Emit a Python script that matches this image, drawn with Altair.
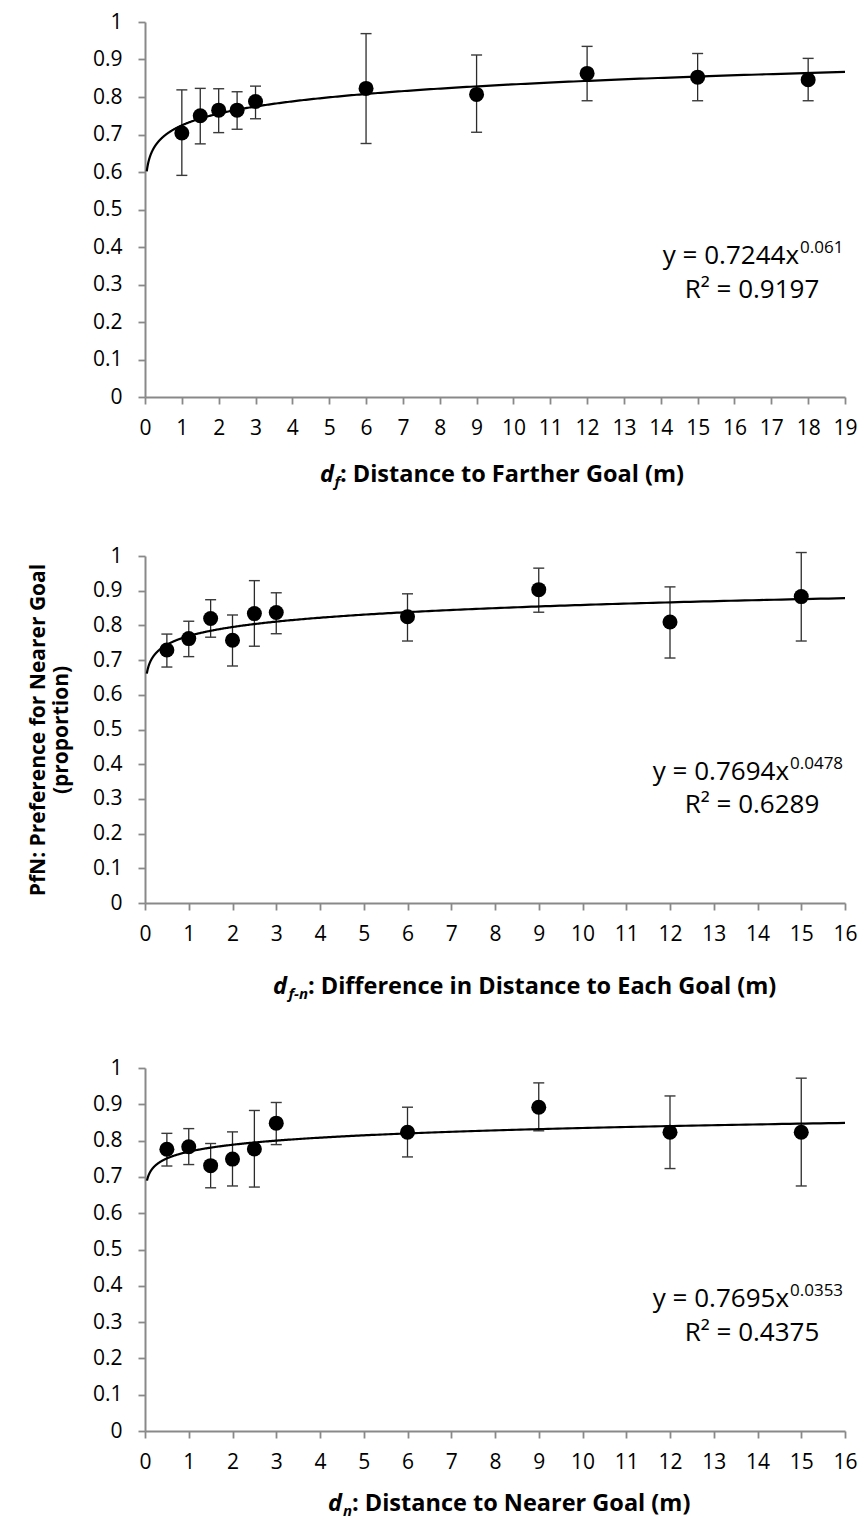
import altair as alt
import pandas as pd

# ---------------- data ----------------
# Panel 1: d_f
df_x = [1, 1.5, 2, 2.5, 3, 6, 9, 12, 15, 18]
df_y = [0.704, 0.750, 0.765, 0.765, 0.788, 0.823, 0.807, 0.863, 0.853, 0.846]
df_lo = [0.591, 0.675, 0.705, 0.714, 0.742, 0.676, 0.706, 0.790, 0.790, 0.790]
df_hi = [0.819, 0.823, 0.822, 0.814, 0.829, 0.969, 0.912, 0.935, 0.916, 0.903]

# Panel 2: d_f-n
dfn_x = [0.5, 1, 1.5, 2, 2.5, 3, 6, 9, 12, 15]
dfn_y = [0.729, 0.762, 0.820, 0.757, 0.834, 0.837, 0.825, 0.903, 0.810, 0.883]
dfn_lo = [0.680, 0.710, 0.766, 0.683, 0.740, 0.776, 0.755, 0.838, 0.706, 0.755]
dfn_hi = [0.775, 0.812, 0.874, 0.830, 0.929, 0.894, 0.891, 0.965, 0.911, 1.010]

# Panel 3: d_n
dn_x = [0.5, 1, 1.5, 2, 2.5, 3, 6, 9, 12, 15]
dn_y = [0.776, 0.783, 0.731, 0.749, 0.777, 0.848, 0.823, 0.892, 0.823, 0.823]
dn_lo = [0.730, 0.734, 0.670, 0.675, 0.672, 0.789, 0.755, 0.827, 0.723, 0.675]
dn_hi = [0.820, 0.833, 0.792, 0.824, 0.883, 0.905, 0.892, 0.959, 0.923, 0.972]

# Power-law trend lines as printed on the chart: y = a * x^b
fit_a = [0.7244, 0.7694, 0.7695]
fit_b = [0.061, 0.0478, 0.0353]
fit_start = [0.048, 0.042, 0.045]
fit_end = [19, 16, 16]

eq_main = ["y = 0.7244x", "y = 0.7694x", "y = 0.7695x"]
eq_sup = ["0.061", "0.0478", "0.0353"]
eq_r2 = ["R\u00b2 = 0.9197", "R\u00b2 = 0.6289", "R\u00b2 = 0.4375"]

x_max = [19, 16, 16]
title_d = ["d", "d", "d"]
title_sub = ["f", "f-n", "n"]
title_main = [": Distance to Farther Goal (m)",
              ": Difference in Distance to Each Goal (m)",
              ": Distance to Nearer Goal (m)"]
y_title = ["PfN: Preference for Nearer Goal", "(proportion)"]

y_ticks = [i / 10 for i in range(11)]

FONT = "Open Sans"
AX = "#898989"

# layout (pixels, style only)
widths = [700, 700, 700]
heights = [375, 347, 363]
eq_pos = [  # main right x, main y, sup y, r2 center x, r2 y
    (654, 234, 226, 607, 268),
    (644, 216, 208, 607, 249),
    (644, 231, 223, 607, 265),
]
title_pos = [  # main left x, center y, subscript width
    (195, 453, 6),
    (163, 431, 21),
    (207, 436, 10),
]


def panel(i, xs, ys, lo, hi, show_ytitle):
    data = pd.DataFrame({"x": xs, "y": ys, "lo": lo, "hi": hi})
    w, h = widths[i], heights[i]
    xscale = alt.Scale(domain=[0, x_max[i]], nice=False, zero=True)
    yscale = alt.Scale(domain=[0, 1], nice=False)
    xaxis = alt.Axis(values=list(range(0, x_max[i] + 1)), title=None,
                     labelPadding=13, tickSize=7, labelOverlap=False,
                     labelFlush=False)
    yaxis_kw = dict(values=y_ticks, format=".1~f", tickSize=7, labelPadding=16,
                    labelOverlap=False, labelFlush=False)
    if show_ytitle:
        yaxis = alt.Axis(title=y_title, titlePadding=21, **yaxis_kw)
    else:
        yaxis = alt.Axis(title=None, **yaxis_kw)

    def X(f):
        return alt.X(f, type="quantitative", scale=xscale, axis=xaxis)

    def Y(f):
        return alt.Y(f, type="quantitative", scale=yscale, axis=yaxis)

    base = alt.Chart(data)
    bars = base.mark_rule(color="#2b2b2b", strokeWidth=1.3).encode(
        x=X("x"), y=Y("lo"), y2="hi:Q")
    cap_lo = base.mark_tick(orient="horizontal", size=11, thickness=1.4,
                            color="#3a3a3a", opacity=1).encode(x=X("x"), y=Y("lo"))
    cap_hi = base.mark_tick(orient="horizontal", size=11, thickness=1.4,
                            color="#3a3a3a", opacity=1).encode(x=X("x"), y=Y("hi"))

    a, b, x0, x1 = fit_a[i], fit_b[i], fit_start[i], fit_end[i]
    curve = alt.Chart(alt.sequence(0, 1.0001, 0.002, as_="t")).transform_calculate(
        px=f"exp(log({x0}) + datum.t * (log({x1}) - log({x0})))"
    ).transform_calculate(
        py=f"{a} * pow(datum.px, {b})"
    ).mark_line(color="black", strokeWidth=2.2).encode(
        x=X("px"), y=Y("py"), order="t:Q")

    pts = base.mark_circle(size=225, color="black", opacity=1).encode(
        x=X("x"), y=Y("y"))

    mx, my, sy, rx, ry = eq_pos[i]
    one = pd.DataFrame({"k": [0]})
    t_main = alt.Chart(one).mark_text(font=FONT, fontSize=26, align="right",
                                      baseline="middle", color="black").encode(
        x=alt.value(mx), y=alt.value(my), text=alt.value(eq_main[i]))
    t_sup = alt.Chart(one).mark_text(font=FONT, fontSize=17, align="left",
                                     baseline="middle", color="black").encode(
        x=alt.value(mx + 1), y=alt.value(sy), text=alt.value(eq_sup[i]))
    t_r2 = alt.Chart(one).mark_text(font=FONT, fontSize=26, align="center",
                                    baseline="middle", color="black").encode(
        x=alt.value(rx), y=alt.value(ry), text=alt.value(eq_r2[i]))

    tx, ty, sw = title_pos[i]
    ti_main = alt.Chart(one).mark_text(font=FONT, fontSize=23.5, fontWeight="bold",
                                       align="left", baseline="middle",
                                       color="black").encode(
        x=alt.value(tx), y=alt.value(ty), text=alt.value(title_main[i]))
    ti_sub = alt.Chart(one).mark_text(font=FONT, fontSize=15, fontWeight="bold",
                                      fontStyle="italic", align="right",
                                      baseline="middle", color="black").encode(
        x=alt.value(tx), y=alt.value(ty + 7), text=alt.value(title_sub[i]))
    ti_d = alt.Chart(one).mark_text(font=FONT, fontSize=23.5, fontWeight="bold",
                                    fontStyle="italic", align="right",
                                    baseline="middle", color="black").encode(
        x=alt.value(tx - sw), y=alt.value(ty), text=alt.value(title_d[i]))

    return alt.layer(bars, cap_lo, cap_hi, curve, pts, t_main, t_sup, t_r2,
                     ti_main, ti_sub, ti_d).properties(width=w, height=h)


p1 = panel(0, df_x, df_y, df_lo, df_hi, False)
p2 = panel(1, dfn_x, dfn_y, dfn_lo, dfn_hi, True)
p3 = panel(2, dn_x, dn_y, dn_lo, dn_hi, False)

chart = alt.vconcat(p1, p2, p3, spacing=55).properties(
    padding={"left": 19, "top": 3, "right": 0, "bottom": 0}
).configure_view(stroke=None).configure_axis(
    grid=False,
    domainColor=AX, domainWidth=2,
    tickColor=AX, tickWidth=1.8,
    labelFont=FONT, labelFontSize=21, labelColor="black",
    titleFont=FONT, titleFontSize=21, titleFontWeight="bold", titleColor="black",
    titleLineHeight=23,
)

chart.save("out.html", embed_options={"renderer": "svg", "actions": False})
